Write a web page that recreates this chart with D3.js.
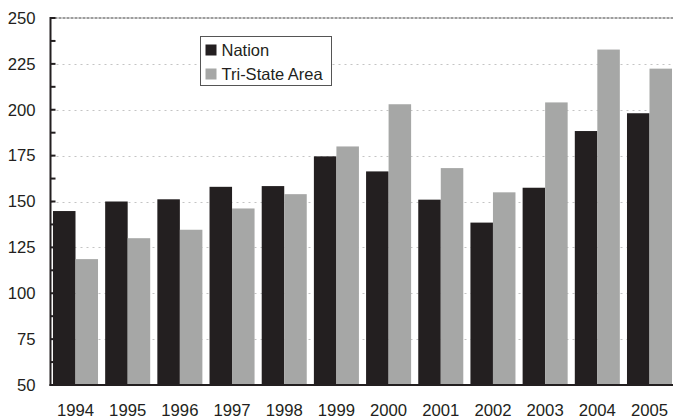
<!DOCTYPE html>
<html>
<head>
<meta charset="utf-8">
<script src="https://cdn.jsdelivr.net/npm/d3@7"></script>
<style>
  html, body { margin: 0; padding: 0; background: #fff; }
  svg { display: block; font-family: "Liberation Sans", Arial, sans-serif; }
</style>
</head>
<body>
<svg id="chart" width="673" height="420"></svg>
<script>
const years = ["1994","1995","1996","1997","1998","1999","2000","2001","2002","2003","2004","2005"];
const nation = [144.8, 150, 151.2, 158, 158.4, 174.6, 166.4, 151, 138.5, 157.5, 188.4, 198.1];
const triState = [118.6, 130, 134.6, 146.2, 154, 180, 203, 168.2, 155, 204, 232.8, 222.4];
const seriesNames = ["Nation", "Tri-State Area"];
const yTicks = [50, 75, 100, 125, 150, 175, 200, 225, 250];
const yMinorTicks = [62.5, 87.5, 112.5, 137.5, 162.5, 187.5, 212.5, 237.5];

(function () {
const colors = ["#231f20", "#a6a7a6"];
const svg = d3.select("#chart");
const mLeft = 50.5, mTop = 18, mBottom = 385;

const x = d3.scaleBand().domain(years).range([51, 674]).paddingInner(0.137).paddingOuter(0.038);
const xs = d3.scaleBand().domain([0, 1]).range([0, x.bandwidth()]);
const y = d3.scaleLinear().domain([50, 250]).range([mBottom, mTop]);

// gridlines
svg.append("g").selectAll("line").data(yTicks.filter(t => t > 50 && t < 250)).join("line")
  .attr("x1", mLeft).attr("x2", 673)
  .attr("y1", d => Math.round(y(d)) + 0.5).attr("y2", d => Math.round(y(d)) + 0.5)
  .attr("stroke", "#c4c4c4").attr("stroke-width", 1).attr("stroke-dasharray", "2,4");

// top border
svg.append("line").attr("x1", mLeft).attr("x2", 673).attr("y1", y(250)).attr("y2", y(250))
  .attr("stroke", "#7d7d7d").attr("stroke-width", 1.5).attr("stroke-dasharray", "3,1");

// bars
const data = years.map((yr, i) => ({ yr, vals: [nation[i], triState[i]] }));
const groups = svg.append("g").selectAll("g").data(data).join("g")
  .attr("transform", d => `translate(${x(d.yr)},0)`);
groups.selectAll("rect").data(d => d.vals.map((v, k) => ({ v, k }))).join("rect")
  .attr("x", d => xs(d.k))
  .attr("width", xs.bandwidth())
  .attr("y", d => y(d.v))
  .attr("height", d => y(50) - y(d.v))
  .attr("fill", d => colors[d.k]);

// x axis baseline
svg.append("line").attr("x1", mLeft - 1).attr("x2", 673).attr("y1", mBottom).attr("y2", mBottom)
  .attr("stroke", "#231f20").attr("stroke-width", 2);

// y axis
const yAxis = svg.append("g").attr("transform", `translate(${mLeft},0)`);
yAxis.append("line").attr("x1", 0).attr("x2", 0).attr("y1", mTop - 1).attr("y2", mBottom + 1)
  .attr("stroke", "#231f20").attr("stroke-width", 2);
yAxis.selectAll("line.major").data(yTicks).join("line").attr("class", "major")
  .attr("x1", 0).attr("x2", 5).attr("y1", d => y(d)).attr("y2", d => y(d))
  .attr("stroke", "#231f20").attr("stroke-width", 2);
yAxis.selectAll("line.minor").data(yMinorTicks).join("line").attr("class", "minor")
  .attr("x1", 0).attr("x2", 5).attr("y1", d => y(d)).attr("y2", d => y(d))
  .attr("stroke", "#231f20").attr("stroke-width", 2);
yAxis.selectAll("text").data(yTicks).join("text")
  .attr("x", -15).attr("y", d => y(d)).attr("dy", "0.35em")
  .attr("text-anchor", "end").attr("font-size", 16.7).attr("fill", "#231f20")
  .text(d => d);

// x labels
svg.append("g").selectAll("text").data(years).join("text")
  .attr("x", d => x(d) + x.bandwidth() / 2).attr("y", 416)
  .attr("text-anchor", "middle").attr("font-size", 16.7).attr("fill", "#231f20")
  .text(d => d);

// legend
const lg = svg.append("g").attr("transform", "translate(200.5,36.5)");
lg.append("rect").attr("width", 131).attr("height", 49).attr("fill", "#fff")
  .attr("stroke", "#555").attr("stroke-width", 1);
seriesNames.forEach((n, k) => {
  lg.append("rect").attr("x", 5).attr("y", 8 + k * 24).attr("width", 11).attr("height", 11)
    .attr("fill", colors[k]);
  lg.append("text").attr("x", 21).attr("y", 14 + k * 24).attr("dy", "0.35em")
    .attr("font-size", 16.5).attr("fill", "#231f20").text(n);
});
})();
</script>
</body>
</html>
